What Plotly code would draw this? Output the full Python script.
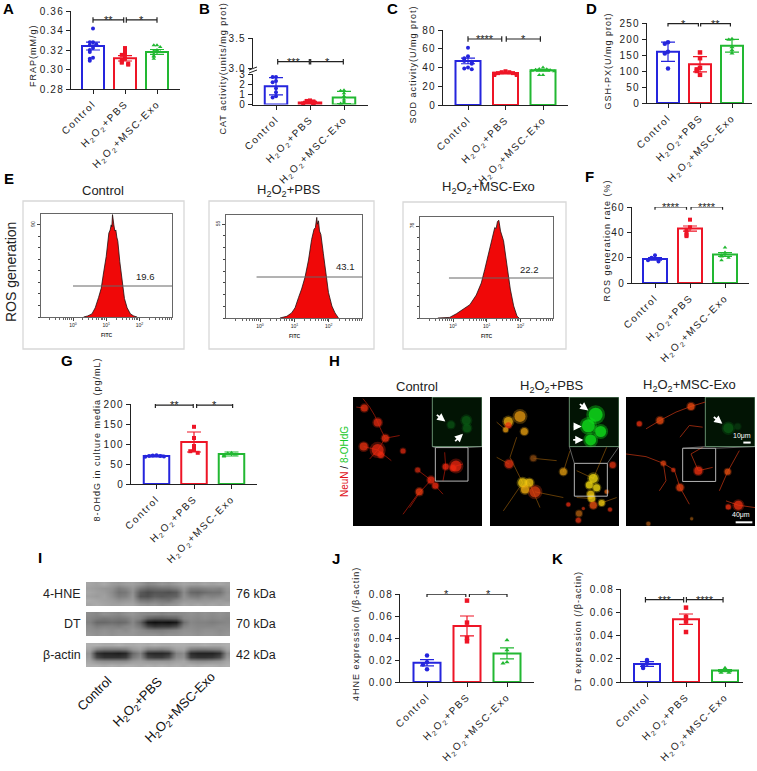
import json
import plotly.graph_objects as go

W, H = 757, 771
FONT = "Liberation Sans"
BLUE, RED, GREEN = "#2525dd", "#ee1526", "#22b832"
GROUP_COLORS = [BLUE, RED, GREEN]
GROUP_SYMBOLS = ["circle", "square", "triangle-up"]
H2PBS = "H<sub>2</sub>O<sub>2</sub>+PBS"
H2EXO = "H<sub>2</sub>O<sub>2</sub>+MSC-Exo"
GROUP_LABELS = ["Control", H2PBS, H2EXO]

# ---- bar chart data ----
a_means, a_errs = [0.324, 0.3115, 0.318], [0.004, 0.0028, 0.0025]
a_points = [[0.342, 0.328, 0.328, 0.326, 0.325, 0.322, 0.320, 0.318, 0.312, 0.311, 0.309],
            [0.322, 0.319, 0.315, 0.315, 0.311, 0.310, 0.308, 0.307, 0.306, 0.305],
            [0.325, 0.325, 0.323, 0.320, 0.319, 0.318, 0.316, 0.314, 0.313, 0.311]]
b_means, b_errs = [1.8, 0.2, 0.7], [0.85, 0.1, 0.6]
b_points = [[2.7, 2.7, 2.3, 2.2, 1.6, 1.2, 0.8, 0.7],
            [0.4, 0.35, 0.3, 0.25, 0.2, 0.15, 0.12, 0.1],
            [1.4, 1.35, 1.1, 0.8, 0.5, 0.3, 0.15, 0.1]]
c_means, c_errs = [47, 34, 37], [3, 0.8, 1]
c_points = [[61, 52, 50, 48, 47, 46, 45, 44, 40, 39, 38],
            [36, 35, 35, 34, 34, 33.5, 33, 33, 32, 32],
            [40, 38.5, 38, 37.5, 37, 37, 36.5, 36, 32, 32]]
d_means, d_errs = [160, 121, 179], [30, 24, 20]
d_points = [[190, 185, 160, 155, 108], [158, 140, 110, 105, 100, 88], [200, 198, 175, 165, 155]]
f_means, f_errs = [19, 43, 22.5], [1, 2, 1.5]
f_points = [[22, 20, 19.5, 19, 18, 17], [50, 44, 42, 40, 38, 37], [28, 24, 22, 21, 20, 18]]
g_means, g_errs = [70, 105, 75], [2, 25, 5]
g_points = [[72, 71, 70, 70, 69, 68], [143, 115, 95, 85, 82, 78], [78, 77, 74, 72, 70, 69]]
j_means, j_errs = [0.0175, 0.051, 0.026], [0.0028, 0.009, 0.005]
j_points = [[0.024, 0.018, 0.016, 0.0115], [0.074, 0.054, 0.04, 0.037], [0.038, 0.029, 0.018, 0.017]]
k_means, k_errs = [0.0155, 0.054, 0.0098], [0.002, 0.0045, 0.0008]
k_points = [[0.019, 0.016, 0.014, 0.012], [0.064, 0.056, 0.052, 0.043], [0.012, 0.0095, 0.008, 0.008]]

# ---- flow cytometry data (log10 FITC, count) ----
e1_log = [0.32, 0.44, 0.57, 0.67, 0.77, 0.85, 0.92, 1.0, 1.08, 1.12, 1.15, 1.17, 1.19, 1.21, 1.23, 1.26, 1.29, 1.32, 1.35, 1.41, 1.48, 1.55, 1.63, 1.73, 1.83, 1.93]
e1_count = [0, 1, 3, 9, 19, 28, 43, 59, 82, 85, 90, 88, 100, 92, 90, 84, 85, 78, 74, 54, 35, 18, 9, 3, 1, 0]
e2_log = [0.58, 0.78, 0.92, 1.02, 1.12, 1.21, 1.31, 1.41, 1.50, 1.57, 1.61, 1.65, 1.67, 1.70, 1.73, 1.77, 1.84, 1.92, 1.99, 2.09, 2.18, 2.28]
e2_count = [0, 1, 3, 6, 12, 17, 24, 34, 46, 52, 53, 59, 55, 57, 51, 49, 38, 26, 15, 7, 3, 0]
e3_log = [-0.45, -0.1, 0.1, 0.3, 0.5, 0.69, 0.84, 0.94, 1.04, 1.14, 1.24, 1.28, 1.32, 1.36, 1.38, 1.41, 1.50, 1.60, 1.70, 1.80, 1.90, 1.96]
e3_count = [0, 0.5, 3.5, 7, 11, 19, 29, 40, 52, 65, 75, 74, 80, 81, 76, 72, 64, 44, 24, 10, 1.5, 0]
e_peaks = [90, 55, 76]
e_gates = [19.6, 43.1, 22.2]

# ---- western blot grey levels ----
blot_hne = [
 [165,160,168,155,150,158,160,150,135,140,150,145,155,165,160,158,165,160,165,160],
 [160,155,150,145,125,135,150,120,105,110,115,115,125,150,125,125,130,135,130,150],
 [165,158,155,140,115,120,145,90,75,85,85,80,90,140,105,100,110,115,115,145],
 [160,155,160,145,125,130,150,85,80,95,90,95,100,145,125,120,135,130,135,150],
 [170,165,160,155,145,150,155,120,115,125,120,115,135,150,150,145,150,150,155,150],
 [165,170,165,160,160,165,165,150,145,150,140,145,150,165,160,165,160,165,160,165]]
blot_dt = [
 [140,135,145,140,135,145,150,140,135,135,130,135,135,140,145,140,145,140,145,140],
 [135,125,120,125,120,125,140,130,100,90,90,95,100,135,140,135,140,135,140,135],
 [130,105,105,110,105,110,135,100,25,15,20,15,25,110,135,130,130,125,130,135],
 [140,125,130,130,125,135,140,120,70,55,60,60,75,130,140,135,135,135,140,140],
 [145,140,145,140,145,140,150,140,130,125,125,130,135,145,145,140,145,145,140,145],
 [150,145,150,145,150,150,150,145,145,145,140,145,145,150,150,145,150,150,145,150]]
blot_actin = [
 [175,175,170,170,175,170,170,175,170,175,170,170,175,175,170,170,175,170,170,175],
 [165,130,120,120,120,125,150,160,130,130,125,135,160,165,125,120,120,125,130,165],
 [150,50,35,35,30,40,105,130,45,40,40,50,130,140,45,35,35,35,50,140],
 [155,70,50,50,50,60,120,140,70,60,60,80,140,145,60,50,50,55,75,150],
 [165,145,140,140,140,140,155,160,150,150,150,150,160,165,145,140,140,145,150,165],
 [175,175,170,175,170,175,175,170,175,170,175,170,175,170,175,170,175,175,170,175]]

# ---- fluorescence micrographs: cell x, y, diameter, colour, and neurites ----
h1_cells = [(34,33,7,"#e8300f"),(74,76,8,"#e02a10"),(97,123,7,"#e8300f"),(32,148,8,"#e8300f"),(74,158,12,"#ee2a10"),
            (84,173,6,"#ee2a10"),(150,161,5,"#d82810"),(194,218,5,"#c82810"),(234,248,7,"#ee2a10"),(247,265,6,"#ee2a10"),
            (199,283,7,"#ee3a10"),(278,208,6,"#ee2a10"),(309,206,11,"#f02810"),(300,212,6,"#f02810")]
h1_neurites = [[(30,5),(50,30),(65,55),(74,76),(85,100),(97,123),(80,150),(74,158)],[(97,123),(140,115)],[(74,158),(50,185)],
               [(74,158),(115,190)],[(32,148),(74,158)],[(34,33),(10,30)],[(234,248),(200,285),(170,330)],[(247,265),(270,290)],
               [(199,283),(150,350)],[(194,218),(234,248)],[(278,208),(275,165)],[(309,206),(330,200)],[(278,208),(270,250)]]
h1_inset = [(340,70,9,"#0a5a14"),(294,83,7,"#0a5014"),(342,93,8,"#0a5a14")]
h2_cells = [(55,73,9,"#f0b010"),(55,84,6,"#e83010"),(90,58,11,"#e89a10"),(47,98,5,"#e89a10"),(103,103,7,"#e8a010"),
            (57,200,8,"#e03010"),(130,183,6,"#8a4a10"),(220,223,7,"#e09a10"),(368,203,6,"#e03010"),(98,256,9,"#f8d010"),
            (118,256,8,"#f8c810"),(105,276,8,"#f8b010"),(135,283,11,"#e04010"),(310,243,9,"#f8e010"),(298,263,7,"#f8e010"),
            (320,271,7,"#f8e010"),(302,290,7,"#f8d010"),(305,303,7,"#f8d010"),(335,316,6,"#f8d010"),(310,323,7,"#e85010"),
            (235,321,4,"#e02a10"),(350,283,4,"#d86010"),(267,348,6,"#b06010"),(265,368,5,"#d83010"),(360,336,4,"#d83010"),(280,333,3,"#c03010")]
h2_neurites = [[(47,98),(20,75)],[(57,200),(20,180)],[(98,256),(60,180),(80,120)],[(135,283),(220,300)],[(310,243),(350,150)],
               [(335,316),(380,300)],[(130,183),(200,190)],[(220,223),(240,160)],[(118,256),(150,330)],[(305,303),(260,300)],
               [(98,256),(40,340)],[(310,243),(260,220)]]
h2_inset = [(317,53,14,"#10e81c"),(295,86,13,"#10e81c"),(332,103,11,"#10e81c"),(302,128,11,"#10e81c")]
h3_cells = [(195,28,7,"#f04a10"),(102,70,7,"#e84a10"),(40,80,5,"#e83010"),(112,198,5,"#d84010"),(217,220,8,"#f03010"),
            (305,223,6,"#e85010"),(162,270,7,"#e84010"),(337,323,9,"#ee3010"),(307,328,5,"#ee3010"),(67,378,4,"#a05010"),
            (197,363,3,"#905010"),(142,218,4,"#d03010")]
h3_neurites = [[(195,28),(150,45),(102,70)],[(195,28),(238,15)],[(102,70),(60,95)],[(162,270),(145,218),(112,198),(60,178),(0,170)],
               [(162,270),(190,320)],[(217,220),(195,170),(230,150)],[(217,220),(260,210)],[(305,223),(340,160)],[(305,223),(280,280)],
               [(337,323),(300,310)],[(337,323),(387,330)],[(112,198),(120,250),(100,280)],[(162,120),(190,85),(230,90)]]
h3_inset = [(307,93,10,"#0a5a14"),(335,88,6,"#083a10")]

# ---- layout tables (pixels in the 757x771 frame) ----
fig = go.Figure()
annotations, shapes = [], []
axis_count = 0
layout_axes = {}


def px_x(x):
    return x / W


def px_y(y):
    return 1 - y / H


def text(x, y, s, size=10, color="black", angle=0, bold=False, anchor="center"):
    annotations.append(dict(x=px_x(x), y=px_y(y), xref="paper", yref="paper", text=("<b>%s</b>" % s) if bold else s,
                            showarrow=False, textangle=angle, xanchor=anchor, yanchor="middle",
                            font=dict(family=FONT, size=size, color=color)))


def new_axes(x0, x1, y0, y1, xa, ya):
    global axis_count
    axis_count += 1
    n = axis_count
    suffix = "" if n == 1 else str(n)
    xa = dict(xa, domain=[px_x(x0), px_x(x1)], anchor="y" + suffix, automargin=False)
    ya = dict(ya, domain=[px_y(y1), px_y(y0)], anchor="x" + suffix, automargin=False)
    layout_axes["xaxis" + suffix] = xa
    layout_axes["yaxis" + suffix] = ya
    return "x" + suffix, "y" + suffix, n


TICKFONT = dict(family=FONT, size=10, color="#222")
AXLINE = dict(showline=True, linecolor="#222", linewidth=1.2, ticks="outside", ticklen=4, tickwidth=1.2,
              tickcolor="#222", showgrid=False, zeroline=False, tickfont=TICKFONT)
SWARM = [0, -0.1, 0.1, -0.2, 0.2, -0.3, 0.3, -0.05, 0.05, -0.15, 0.15]


def spread(values, axis_span):
    placed, out = [], []
    for v in values:
        k = sum(1 for p in placed if abs(p - v) < axis_span * 0.035)
        out.append(SWARM[k % len(SWARM)])
        placed.append(v)
    return out


def draw_groups(xr, yr, means, errs, pts, bar_w, msize, axis_span):
    for i in range(3):
        fig.add_trace(go.Bar(x=[i], y=[means[i]], width=bar_w, xaxis=xr, yaxis=yr, marker=dict(color="white", line=dict(color=GROUP_COLORS[i], width=2)),
                             error_y=dict(type="data", array=[errs[i]], color=GROUP_COLORS[i], thickness=1.2, width=7), showlegend=False))
        off = spread(pts[i], axis_span)
        fig.add_trace(go.Scatter(x=[i + o for o in off], y=pts[i], xaxis=xr, yaxis=yr, mode="markers", cliponaxis=False,
                                 marker=dict(color=GROUP_COLORS[i], symbol=GROUP_SYMBOLS[i], size=msize), showlegend=False))


def bracket(xr, yr, x0, x1, y, cap, stars):
    fig.add_trace(go.Scatter(x=[x0, x0, x0, x1, x1, x1], y=[y - cap, y + cap, y, y, y + cap, y - cap], xaxis=xr, yaxis=yr,
                             mode="lines", cliponaxis=False, line=dict(color="#222", width=1.2, simplify=False), showlegend=False))
    annotations.append(dict(x=(x0 + x1) / 2, y=y, xref=xr, yref=yr, text=stars, showarrow=False, yanchor="middle",
                            font=dict(family=FONT, size=11, color="#222")))


bar_panels = [
    dict(m=a_means, e=a_errs, p=a_points, box=(71, 180, 11, 89), c0=93, sp=32, bw=22, rng=(0.28, 0.36), tv=[0.28, 0.30, 0.32, 0.34, 0.36],
         tf=".2f", br=[(0, .96, .3508, "**"), (1.04, 2, .3508, "*")], ms=4),
    dict(m=c_means, e=c_errs, p=c_points, box=(443, 568, 30, 105), c0=468, sp=37.5, bw=25, rng=(0, 80), tv=[0, 20, 40, 60, 80],
         tf="d", br=[(0, .9, 70.4, "****"), (1.02, 1.93, 70.4, "*")], ms=4),
    dict(m=d_means, e=d_errs, p=d_points, box=(647, 752, 23, 103), c0=668, sp=32, bw=22, rng=(0, 250), tv=[0, 50, 100, 150, 200, 250],
         tf="d", br=[(0, .95, 248, "*"), (1.02, 1.95, 248, "**")], ms=4.5),
    dict(m=f_means, e=f_errs, p=f_points, box=(632, 749, 207, 283), c0=655, sp=35, bw=24, rng=(0, 60), tv=[0, 20, 40, 60],
         tf="d", br=[(0, .9, 60, "****"), (1.03, 1.93, 60, "****")], ms=4),
    dict(m=g_means, e=g_errs, p=g_points, box=(131, 257, 404, 484), c0=156.5, sp=37.5, bw=25.5, rng=(0, 200), tv=[0, 50, 100, 150, 200],
         tf="d", br=[(-.03, .98, 197, "**"), (1.07, 2.03, 197, "*")], ms=4),
    dict(m=j_means, e=j_errs, p=j_points, box=(400, 534, 594, 682), c0=427, sp=40, bw=27, rng=(0, .08), tv=[0, .02, .04, .06, .08],
         tf=".2f", br=[(0, .97, .0799, "*"), (1.06, 2, .0799, "*")], ms=4.5),
    dict(m=k_means, e=k_errs, p=k_points, box=(621, 743, 589, 682), c0=647, sp=39, bw=26, rng=(0, .08), tv=[0, .02, .04, .06, .08],
         tf=".2f", br=[(-.04, .94, .0708, "***"), (1.01, 1.95, .0708, "****")], ms=4.5),
]

for P in bar_panels:
    x0, x1, y0, y1 = P["box"]
    xa = dict(AXLINE, range=[(x0 - P["c0"]) / P["sp"], (x1 - P["c0"]) / P["sp"]], tickmode="array", tickvals=[0, 1, 2],
              ticktext=GROUP_LABELS, tickangle=-45)
    ya = dict(AXLINE, range=list(P["rng"]), tickmode="array", tickvals=P["tv"], tickformat=P["tf"])
    xr, yr, n = new_axes(x0, x1, y0, y1, xa, ya)
    span = P["rng"][1] - P["rng"][0]
    draw_groups(xr, yr, P["m"], P["e"], P["p"], P["bw"] / P["sp"], P["ms"], span)
    cap = span / (y1 - y0) * 2.8
    for b in P["br"]:
        bracket(xr, yr, b[0], b[1], b[2], cap, b[3])

# panel B: broken axis
bxr = [(253 - 276) / 34, (368 - 276) / 34]
xa = dict(AXLINE, range=bxr, tickmode="array", tickvals=[0, 1, 2], ticktext=GROUP_LABELS, tickangle=-45)
ya = dict(AXLINE, range=[0, 3], tickmode="array", tickvals=[0, 1, 2, 3])
xr, yr, n = new_axes(253, 368, 74, 104.5, xa, ya)
draw_groups(xr, yr, b_means, b_errs, b_points, 22.5 / 34, 4, 3)
xa = dict(range=bxr, visible=False)
ya = dict(AXLINE, range=[3, 3.5], tickmode="array", tickvals=[3, 3.5], tickformat=".1f")
xr2, yr2, n = new_axes(253, 368, 38, 68, xa, ya)
bracket(xr2, yr2, 0.05, 0.98, 3.105, 0.045, "***")
bracket(xr2, yr2, 1.02, 1.98, 3.105, 0.045, "*")
for dy in (0, 3):
    shapes.append(dict(type="line", xref="paper", yref="paper", x0=px_x(249), x1=px_x(257), y0=px_y(70 + dy), y1=px_y(67 + dy),
                       line=dict(color="#222", width=1)))

# panel E: flow cytometry
e_geo = [
    dict(outer=(23, 184, 201, 349), inner=(41, 172, 214, 317), d0=73, dec=33.2, top=100.6, x=e1_log, y=e1_count, gate=(0, 286), lab=(145, 276)),
    dict(outer=(209, 374, 201, 349), inner=(226, 362, 215, 318), d0=260, dec=34.4, top=60.4, x=e2_log, y=e2_count, gate=(-0.1, 277), lab=(345, 266)),
    dict(outer=(403, 566, 202, 349), inner=(420, 553, 217, 318), d0=453, dec=33.7, top=83.7, x=e3_log, y=e3_count, gate=(-0.12, 278), lab=(529, 269)),
]
for G, peak, gate in zip(e_geo, e_peaks, e_gates):
    ox0, ox1, oy0, oy1 = G["outer"]
    shapes.append(dict(type="rect", xref="paper", yref="paper", x0=px_x(ox0), x1=px_x(ox1), y0=px_y(oy0), y1=px_y(oy1),
                       line=dict(color="#d8d8d8", width=1.3), layer="below"))
    x0, x1, y0, y1 = G["inner"]
    lo, hi = (x0 - G["d0"]) / G["dec"], (x1 - G["d0"]) / G["dec"]
    small = dict(family=FONT, size=5, color="#222")
    common = dict(showline=True, mirror=True, linecolor="#666", linewidth=1, showgrid=False, zeroline=False, tickcolor="#444",
                  tickfont=small, ticks="outside", ticklen=3, tickwidth=0.7)
    xa = dict(common, type="log", range=[lo, hi], tickmode="array", tickvals=[1, 10, 100, 1000],
              ticktext=["10<sup>0</sup>", "10<sup>1</sup>", "10<sup>2</sup>", "10<sup>3</sup>"],
              minor=dict(ticks="outside", ticklen=1.5, tickwidth=0.5, dtick="D1", tickcolor="#666", showgrid=False))
    ya = dict(common, range=[0, G["top"]], tickmode="array", tickvals=[peak], ticktext=[str(peak)], tickangle=-90,
              minor=dict(ticks="outside", ticklen=2.5, tickwidth=0.6, tick0=0, dtick=peak / 8, tickcolor="#444", showgrid=False))
    xr, yr, n = new_axes(x0, x1, y0, y1, xa, ya)
    fig.add_trace(go.Scatter(x=[10 ** v for v in G["x"]], y=G["y"], xaxis=xr, yaxis=yr, mode="lines", fill="tozeroy",
                             fillcolor="#f00808", line=dict(color="#201010", width=0.8), showlegend=False))
    gate_y = (y1 - G["gate"][1]) / (y1 - y0) * G["top"]
    fig.add_trace(go.Scatter(x=[10 ** G["gate"][0], 10 ** hi], y=[gate_y, gate_y], xaxis=xr, yaxis=yr, mode="lines",
                             line=dict(color="#666", width=1), showlegend=False))
    text(G["lab"][0], G["lab"][1], str(gate), size=9.5, color="#222")
    text((x0 + x1) / 2, y1 + 18, "<b>FITC</b>", size=5, color="#333")

text(11, 272, "ROS generation", size=14, color="#222", angle=-90)
text(103, 190, "Control", size=13, color="#222")
text(289, 190, H2PBS, size=13, color="#222")
text(488, 187, H2EXO, size=13, color="#222")

# panel H: micrographs
h_boxes = [(353, 482), (490, 619), (626, 755)]
h_sets = [(h1_cells, h1_neurites, h1_inset, "#a01808"),
          (h2_cells, h2_neurites, h2_inset, "#7a4a08"),
          (h3_cells, h3_neurites, h3_inset, "#b03010")]
h_boxes_white = [(247, 345, 151, 251), (253, 352, 198, 296), (170, 269, 153, 252)]
h_arrows = [[(285 - 38, 192 - 142, 315 - 38, 215 - 142), (340 - 38, 278 - 142, 368 - 38, 252 - 142)],
            [(265, 18, 295, 40), (247, 88, 275, 88), (245, 128, 280, 128)],
            [(259, 56, 289, 80)]]
for (px0, px1), (cells, neur, inset, ncol), wb, arrows in zip(h_boxes, h_sets, h_boxes_white, h_arrows):
    ax = dict(range=[0, 387], visible=False)
    ay = dict(range=[385, 0], visible=False)
    xr, yr, n = new_axes(px0, px1, 397, 526, ax, ay)
    shapes.append(dict(type="rect", xref=xr, yref=yr, x0=0, x1=387, y0=0, y1=385, fillcolor="black", line_width=0, layer="below"))
    xs, ys = [], []
    for seg in neur:
        xs += [p[0] for p in seg] + [None]
        ys += [p[1] for p in seg] + [None]
    fig.add_trace(go.Scatter(x=xs, y=ys, xaxis=xr, yaxis=yr, mode="lines", line=dict(color=ncol, width=0.8), showlegend=False))
    for group, glow in ((cells, 0.3), (inset, 0.35)):
        if group is inset:
            shapes.append(dict(type="rect", xref=xr, yref=yr, x0=238, x1=387, y0=0, y1=148, fillcolor="#021404",
                               line=dict(color="#7fb08a", width=0.8), layer="between"))
        fig.add_trace(go.Scatter(x=[c[0] for c in group], y=[c[1] for c in group], xaxis=xr, yaxis=yr, mode="markers", showlegend=False,
                                 marker=dict(size=[c[2] * 1.35 for c in group], color=[c[3] for c in group], opacity=glow, line_width=0)))
        fig.add_trace(go.Scatter(x=[c[0] for c in group], y=[c[1] for c in group], xaxis=xr, yaxis=yr, mode="markers", showlegend=False,
                                 marker=dict(size=[c[2] for c in group], color=[c[3] for c in group], line_width=0)))
    shapes.append(dict(type="rect", xref=xr, yref=yr, x0=wb[0], x1=wb[1], y0=wb[2], y1=wb[3], line=dict(color="#c8c8c8", width=0.9)))
    shapes.append(dict(type="line", xref=xr, yref=yr, x0=238, x1=wb[0], y0=148, y1=wb[2], line=dict(color="#a0a0a0", width=0.6)))
    shapes.append(dict(type="line", xref=xr, yref=yr, x0=387, x1=wb[1], y0=148, y1=wb[2], line=dict(color="#a0a0a0", width=0.6)))
    for a in arrows:
        annotations.append(dict(x=a[2], y=a[3], ax=a[0], ay=a[1], xref=xr, yref=yr, axref=xr, ayref=yr, text="", showarrow=True,
                                arrowhead=2, arrowsize=0.9, arrowwidth=1.8, arrowcolor="white"))
    last_axes = (xr, yr)
xr, yr = last_axes
for x0_, x1_, y_ in ((352, 374, 136), (329, 379, 374)):
    shapes.append(dict(type="line", xref=xr, yref=yr, x0=x0_, x1=x1_, y0=y_, y1=y_, line=dict(color="white", width=2)))
text(742, 436, "10μm", size=7, color="white")
text(741, 515, "40μm", size=7, color="white")
text(417, 386, "Control", size=13, color="#222")
text(552, 386, H2PBS, size=13, color="#222")
text(689, 385, H2EXO, size=13, color="#222")
text(344, 462, '<span style="color:#e01018">NeuN</span> / <span style="color:#18c828">8-OHdG</span>', size=10, angle=-90)

# panel I: western blots
blot_rows = [(blot_hne, 582, 606, "4-HNE", "76 kDa"), (blot_dt, 612, 636, "DT", "70 kDa"), (blot_actin, 643, 667, "β-actin", "42 kDa")]
for z, y0, y1, name, kda in blot_rows:
    xr, yr, n = new_axes(86, 230, y0, y1, dict(visible=False), dict(visible=False, autorange="reversed"))
    fig.add_trace(go.Heatmap(z=z, xaxis=xr, yaxis=yr, zmin=0, zmax=255, showscale=False, zsmooth="best",
                             colorscale=[[0, "black"], [1, "white"]]))
    text(83, (y0 + y1) / 2, name, size=12.5, color="#222", anchor="right")
    text(234, (y0 + y1) / 2, kda, size=12.5, color="#222", anchor="left")
text(94, 693, "Control", size=13, color="#111", angle=-45)
text(138, 702, H2PBS, size=13, color="#111", angle=-45)
text(180, 708, H2EXO, size=13, color="#111", angle=-45)

# y-axis titles
titles = [(33, 56, "FRAP(mM/g)"), (223, 68, "CAT activity(units/mg prot)"), (413, 65, "SOD activity(U/mg prot)"),
          (608, 61, "GSH-PX(U/mg prot)"), (607, 241, "ROS generation rate (%)"), (97, 440, "8-OHdG in culture media (pg/mL)"),
          (356, 634, "4HNE expression (/β-actin)"), (578, 631, "DT expression (/β-actin)")]
for x, y, s in titles:
    text(x, y, s, size=9, color="#222", angle=-90)

# panel letters
letters = [("A", 8, 9), ("B", 205, 9), ("C", 393, 9), ("D", 591, 9), ("E", 9, 178), ("F", 589, 177), ("G", 67, 360),
           ("H", 334, 360), ("I", 40, 557), ("J", 336, 558), ("K", 557, 558)]
for s, x, y in letters:
    text(x, y, s, size=15, bold=True)

fig.update_layout(template="none", width=W, height=H, margin=dict(l=0, r=0, t=0, b=0), paper_bgcolor="white", plot_bgcolor="rgba(0,0,0,0)",
                  barmode="overlay", showlegend=False, annotations=annotations, shapes=shapes, font=dict(family=FONT), **layout_axes)

post = """
document.body.style.margin='0';
document.documentElement.style.overflow='hidden';
var st=document.createElement('style');
st.textContent="g[class^='x'][class$='tick'] text[style*='font-size: 10px']{letter-spacing:1.6px}"
 +"g[class^='y'][class$='tick'] text[style*='font-size: 10px']{letter-spacing:1.2px}"
 +".annotation-text[style*='font-size: 9px']{letter-spacing:1px}";
document.head.appendChild(st);
"""

fig.write_html("out.html", post_script=post, config=dict(displayModeBar=False))
